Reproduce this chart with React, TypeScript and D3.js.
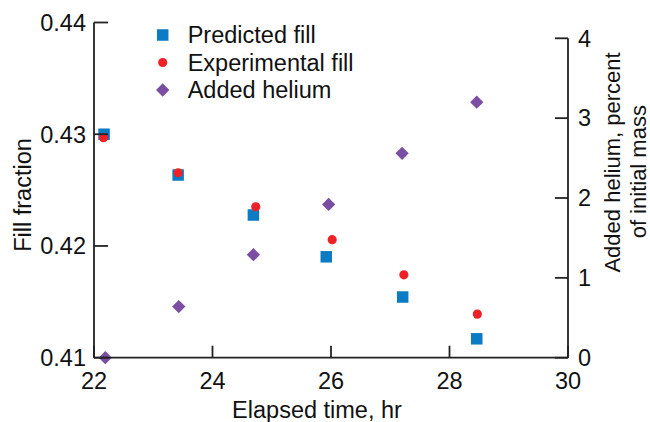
import React from "react";
import * as d3 from "d3";

const timesPred = [22.17, 23.42, 24.69, 25.92, 27.21, 28.46];
const predictedFill = [0.43, 0.42635, 0.42277, 0.41903, 0.41543, 0.41169];
const timesExp = [22.16, 23.42, 24.73, 26.02, 27.23, 28.47];
const experimentalFill = [0.42969, 0.42655, 0.42351, 0.42056, 0.41742, 0.4139];
const timesHe = [22.19, 23.43, 24.69, 25.96, 27.2, 28.46];
const addedHelium = [0.0, 0.64, 1.29, 1.92, 2.56, 3.2];

const xTicks = [22, 24, 26, 28, 30];
const yLeftTicks = [0.41, 0.42, 0.43, 0.44];
const yRightTicks = [0, 1, 2, 3, 4];

const legendLabels = ["Predicted fill", "Experimental fill", "Added helium"];

const BLUE = "#0b7bc4";
const RED = "#ee2226";
const PURPLE = "#7b4ea3";
const AXIS = "#222";
const TXT = "#111";
const FONT = "'Liberation Sans', Arial, Helvetica, sans-serif";
const FS = 23.5;
const FS_R = 22;

export default function App() {
  const W = 650, H = 422;
  const x = d3.scaleLinear().domain([22, 30]).range([94, 568]);
  const yL = d3.scaleLinear().domain([0.41, 0.44]).range([357.7, 22.5]);
  const yR = d3.scaleLinear().domain([0, 4]).range([357.7, 38.3]);
  const sq = 11.5;
  const dSide = 9.4;

  const Diamond = ({ cx, cy }: { cx: number; cy: number }) => (
    <rect x={-dSide / 2} y={-dSide / 2} width={dSide} height={dSide} fill={PURPLE}
      transform={`translate(${cx},${cy}) rotate(45)`} />
  );

  return (
    <svg width={W} height={H} style={{ position: "absolute", left: 0, top: 0, background: "#fff" }} fontFamily={FONT}>
      {/* markers */}
      {predictedFill.map((v, i) => (
        <rect key={"p" + i} x={x(timesPred[i]) - sq / 2} y={yL(v) - sq / 2} width={sq} height={sq} fill={BLUE} />
      ))}
      {experimentalFill.map((v, i) => (
        <circle key={"e" + i} cx={x(timesExp[i])} cy={yL(v)} r={4.6} fill={RED} />
      ))}
      {addedHelium.map((v, i) => (
        <Diamond key={"h" + i} cx={x(timesHe[i])} cy={yR(v)} />
      ))}

      {/* left axis */}
      <line x1={x(22)} x2={x(22)} y1={yL(0.44)} y2={yL(0.41)} stroke={AXIS} strokeWidth={1.8} />
      {yLeftTicks.map((t) => (
        <g key={"yl" + t}>
          <line x1={x(22)} x2={x(22) + 14} y1={yL(t)} y2={yL(t)} stroke={AXIS} strokeWidth={1.8} />
          <text x={x(22) - 8} y={yL(t) + 8.3} textAnchor="end" fontSize={FS} fill={TXT}>
            {d3.format(".2f")(t)}
          </text>
        </g>
      ))}
      {/* bottom axis */}
      <line x1={x(22)} x2={x(30)} y1={yL(0.41)} y2={yL(0.41)} stroke={AXIS} strokeWidth={1.8} />
      {xTicks.map((t) => (
        <g key={"x" + t}>
          <line x1={x(t)} x2={x(t)} y1={yL(0.41)} y2={yL(0.41) - 12} stroke={AXIS} strokeWidth={1.8} />
          <text x={x(t)} y={388.5} textAnchor="middle" fontSize={FS} fill={TXT}>{t}</text>
        </g>
      ))}
      {/* right axis */}
      <line x1={x(30)} x2={x(30)} y1={yR(4)} y2={yR(0)} stroke={AXIS} strokeWidth={1.8} />
      {yRightTicks.map((t) => (
        <g key={"yr" + t}>
          <line x1={x(30)} x2={x(30) - 13} y1={yR(t)} y2={yR(t)} stroke={AXIS} strokeWidth={1.8} />
          <text x={x(30) + 10} y={yR(t) + 8.3} textAnchor="start" fontSize={FS} fill={TXT}>{t}</text>
        </g>
      ))}

      {/* axis titles */}
      <text transform={`translate(31,195) rotate(-90)`} textAnchor="middle" fontSize={FS} fill={TXT}>Fill fraction</text>
      <text x={317} y={418} textAnchor="middle" fontSize={FS} fill={TXT}>Elapsed time, hr</text>
      <text transform={`translate(620,162.5) rotate(-90)`} textAnchor="middle" fontSize={FS_R} fill={TXT}>Added helium, percent</text>
      <text transform={`translate(646,171.7) rotate(-90)`} textAnchor="middle" fontSize={FS_R} fill={TXT}>of initial mass</text>

      {/* legend */}
      {legendLabels.map((lab, i) => {
        const cy = 35 + i * 27.5;
        return (
          <g key={"lg" + i}>
            {i === 0 && <rect x={162.7 - sq / 2} y={cy - sq / 2} width={sq} height={sq} fill={BLUE} />}
            {i === 1 && <circle cx={162.7} cy={cy} r={4.6} fill={RED} />}
            {i === 2 && <Diamond cx={162.7} cy={cy} />}
            <text x={187.7} y={cy + 8.3} fontSize={FS} fill={TXT}>{lab}</text>
          </g>
        );
      })}
    </svg>
  );
}
